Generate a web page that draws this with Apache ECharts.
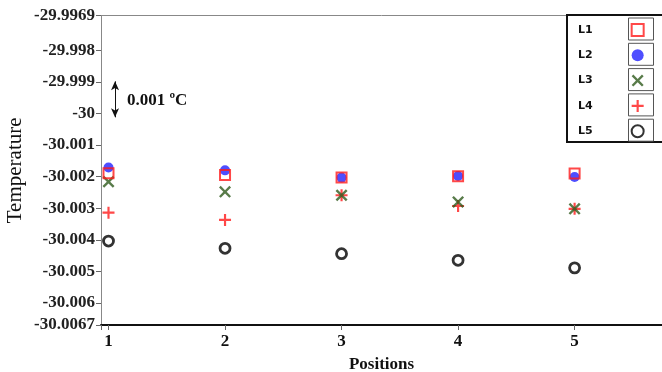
<!DOCTYPE html>
<html>
<head>
<meta charset="utf-8">
<script src="https://cdn.jsdelivr.net/npm/echarts@6/dist/echarts.min.js"></script>
<style>html,body{margin:0;padding:0;background:#fff}#c{width:662px;height:372px}</style>
</head>
<body>
<div id="c"></div>
<script>
const positions = [1, 2, 3, 4, 5];
const L1 = [-30.00189, -30.00195, -30.00203, -30.00199, -30.00190];
const L2 = [-30.00171, -30.00180, -30.00203, -30.00198, -30.00201];
const L3 = [-30.00216, -30.00248, -30.00259, -30.00280, -30.00302];
const L4 = [-30.00314, -30.00337, -30.00259, -30.00293, -30.00302];
const L5 = [-30.00404, -30.00427, -30.00444, -30.00465, -30.00489];
const yTickLabels = ['-29.9969','-29.998','-29.999','-30','-30.001','-30.002','-30.003','-30.004','-30.005','-30.006','-30.0067'];
const xTickLabels = ['1','2','3','4','5'];
const seriesNames = ['L1','L2','L3','L4','L5'];
const annotArrow = [[1.056, -29.99898], [1.056, -30.00012]];

const yMin = -30.0067, yMax = -29.9969;
const xMin = 0.9356, xMax = 5.75;
const serif = '"Liberation Serif","Times New Roman",serif';

function pts(vals){ return positions.map((p,i)=>[p, vals[i]]); }
const X_PATH = 'path://M0,1.4 L1.4,0 L5,3.6 L8.6,0 L10,1.4 L6.4,5 L10,8.6 L8.6,10 L5,6.4 L1.4,10 L0,8.6 L3.6,5 Z';
const PLUS_PATH = 'path://M4.1,0 H5.9 V4.1 H10 V5.9 H5.9 V10 H4.1 V5.9 H0 V4.1 H4.1 Z';

const legendCenters = [29, 54.3, 79.6, 104.9, 130.2];
const frames = legendCenters.map(c => ({
  type: 'rect', z: 20, shape: {x: 628.5, y: c - 11, width: 25, height: 22},
  style: {fill: 'none', stroke: '#555', lineWidth: 1}
}));

const chart = echarts.init(document.getElementById('c'), null, {renderer: 'canvas'});
chart.setOption({
  animation: false,
  backgroundColor: '#fff',
  grid: {left: 101, right: 0, top: 15.7, bottom: 47, containLabel: false, outerBoundsMode: 'none'},
  xAxis: [{
    type: 'value', min: xMin, max: xMax,
    name: 'Positions', nameLocation: 'middle', nameGap: 31, nameMoveOverlap: false,
    nameTextStyle: {fontFamily: serif, fontWeight: 'bold', fontSize: 17, color: '#111'},
    axisLine: {show: true, lineStyle: {color: '#111', width: 2}},
    axisTick: {show: true, length: 5, lineStyle: {color: '#666'}, customValues: [xMin].concat(xTickLabels.map(Number))},
    axisLabel: {show: true, margin: 8, fontFamily: serif, fontWeight: 'bold', fontSize: 17, color: '#111',
      customValues: xTickLabels.map(Number), formatter: v => String(v)},
    splitLine: {show: false}
  }, {
    type: 'value', min: xMin, max: xMax, position: 'top',
    axisLine: {show: true, lineStyle: {color: '#888', width: 1}},
    axisTick: {show: false}, axisLabel: {show: false}, splitLine: {show: false}
  }],
  yAxis: {
    type: 'value', min: yMin, max: yMax,
    name: 'Temperature', nameLocation: 'middle', nameGap: 75, nameMoveOverlap: false,
    nameTextStyle: {fontFamily: serif, fontSize: 21, color: '#111'},
    axisLine: {show: true, lineStyle: {color: '#888', width: 1}},
    axisTick: {show: true, length: 5, lineStyle: {color: '#666'}, customValues: yTickLabels.map(Number)},
    axisLabel: {show: true, margin: 6, fontFamily: serif, fontWeight: 'bold', fontSize: 17, color: '#222',
      customValues: yTickLabels.map(Number),
      formatter: v => yTickLabels.find(s => Math.abs(Number(s) - v) < 1e-7) || ''},
    splitLine: {show: false}
  },
  legend: {
    orient: 'vertical', left: 573, top: 14, align: 'right',
    itemWidth: 12, itemHeight: 12, itemGap: 3.3, z: 15,
    data: seriesNames,
    textStyle: {fontFamily: '"DejaVu Sans",sans-serif', fontWeight: 'bold', fontSize: 11, color: '#111', lineHeight: 22, padding: [0, 34, 0, 0]}
  },
  graphic: [
    {type: 'rect', z: 10, shape: {x: 567, y: 15, width: 100, height: 127}, style: {fill: '#fff', stroke: '#111', lineWidth: 2}},
    ...frames,
    {type: 'text', z: 10, left: 127, top: 92, style: {text: '0.001 ºC', fontFamily: serif, fontWeight: 'bold', fontSize: 17, fill: '#111'}}
  ],
  series: [
    {name: 'L5', type: 'scatter', data: pts(L5), symbol: 'circle', symbolSize: 10,
      itemStyle: {color: 'rgba(0,0,0,0)', borderColor: '#000', borderWidth: 2.8}},
    {name: 'L4', type: 'scatter', data: pts(L4), symbol: PLUS_PATH, symbolSize: 12,
      itemStyle: {color: '#ff1a1a'}},
    {name: 'L3', type: 'scatter', data: pts(L3), symbol: X_PATH, symbolSize: 12,
      itemStyle: {color: '#2e5a1c'}},
    {name: 'L2', type: 'scatter', data: pts(L2), symbol: 'circle', symbolSize: 10,
      itemStyle: {color: '#2222ff'}},
    {name: 'L1', type: 'scatter', data: pts(L1), symbol: 'rect', symbolSize: 10,
      itemStyle: {color: 'rgba(0,0,0,0)', borderColor: '#ff1a1a', borderWidth: 2},
      markLine: {silent: true, symbol: ['arrow', 'arrow'], symbolSize: [6, 9],
        label: {show: false}, lineStyle: {color: '#111', width: 1, type: 'solid'},
        data: [[{coord: annotArrow[0]}, {coord: annotArrow[1]}]]}}
  ]
});
</script>
</body>
</html>
